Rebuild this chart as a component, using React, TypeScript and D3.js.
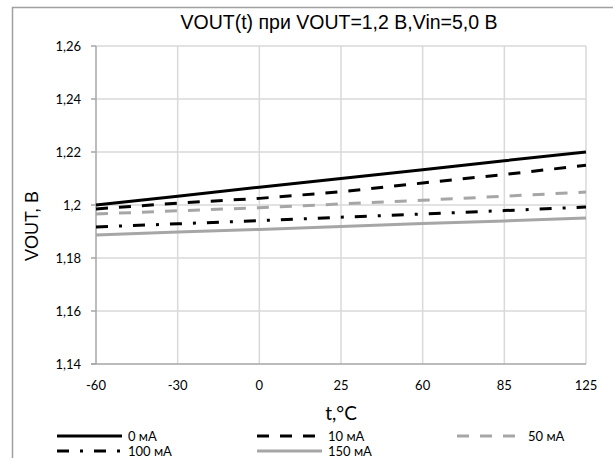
import React from "react";
import * as d3 from "d3";

const categories = ["-60", "-30", "0", "25", "60", "85", "125"];
const yTicks = [1.14, 1.16, 1.18, 1.2, 1.22, 1.24, 1.26];
const seriesNames = ["0 мА", "10 мА", "50 мА", "100 мА", "150 мА"];
const s0 = [1.2, 1.2033, 1.2067, 1.21, 1.2133, 1.2167, 1.22];
const s10 = [1.1985, 1.2007, 1.2025, 1.205, 1.2083, 1.2115, 1.215];
const s50 = [1.1966, 1.1978, 1.199, 1.2004, 1.2018, 1.2033, 1.2049];
const s100 = [1.1917, 1.1929, 1.1941, 1.1954, 1.1966, 1.1979, 1.1992];
const s150 = [1.1887, 1.1898, 1.1908, 1.1919, 1.193, 1.194, 1.1951];

const W = 613;
const H = 458;

const styles = [
  { color: "#000", dash: "none" },
  { color: "#000", dash: "12 11" },
  { color: "#a6a6a6", dash: "12 11" },
  { color: "#000", dash: "12 11 3 11" },
  { color: "#a6a6a6", dash: "none" },
];

export default function App() {
  const data = [s0, s10, s50, s100, s150];
  const x = d3.scalePoint<string>().domain(categories).range([96, 586]);
  const y = d3.scaleLinear().domain([1.14, 1.26]).range([364, 46]);
  const line = d3
    .line<number>()
    .x((_, i) => x(categories[i]) as number)
    .y((d) => y(d));
  const fmt = (v: number) => d3.format(".2~f")(v).replace(".", ",");
  const legendPos = [
    [57, 436],
    [257, 436],
    [457, 436],
    [57, 451],
    [257, 451],
  ];
  const tickFont = "Lato, 'Open Sans', sans-serif";
  return (
    <svg
      width={W}
      height={H}
      style={{ position: "absolute", left: 0, top: 0, background: "#fff" }}
    >
      <rect x={12.5} y={7.5} width={W + 10} height={H + 10} fill="#fff" stroke="#a0a0a0" strokeWidth={1.5} />
      <text
        x={339}
        y={29}
        textAnchor="middle"
        fontFamily="'Liberation Sans', Arial, sans-serif"
        fontSize={19.5}
        fill="#000"
      >
        VOUT(t) при VOUT=1,2 В,Vin=5,0 В
      </text>
      {yTicks.map((t) => (
        <g key={"y" + t}>
          {t > 1.14 && (
            <line x1={96} x2={586} y1={y(t)} y2={y(t)} stroke="#d9d9d9" strokeWidth={1.5} />
          )}
          <line x1={91} x2={96} y1={y(t)} y2={y(t)} stroke="#a6a6a6" strokeWidth={1.5} />
          <text
            x={81}
            y={y(t)}
            dy="0.35em"
            textAnchor="end"
            fontFamily={tickFont}
            fontSize={13}
            fill="#000"
          >
            {fmt(t)}
          </text>
        </g>
      ))}
      {categories.map((c, i) => (
        <g key={"x" + c}>
          {i > 0 && (
            <line x1={x(c)} x2={x(c)} y1={46} y2={364} stroke="#d9d9d9" strokeWidth={1.5} />
          )}
          <text
            x={x(c)}
            y={385}
            dy="0.35em"
            textAnchor="middle"
            fontFamily={tickFont}
            fontSize={13}
            fill="#000"
          >
            {c}
          </text>
        </g>
      ))}
      <line x1={96} x2={96} y1={46} y2={364} stroke="#a6a6a6" strokeWidth={1.5} />
      <line x1={91} x2={586} y1={364} y2={364} stroke="#a6a6a6" strokeWidth={1.5} />
      {data.map((d, i) => (
        <path
          key={"s" + i}
          d={line(d) || ""}
          fill="none"
          stroke={styles[i].color}
          strokeWidth={3}
          strokeDasharray={styles[i].dash}
        />
      ))}
      <text
        x={32}
        y={226}
        transform="rotate(-90 32 226)"
        dy="0.35em"
        textAnchor="middle"
        fontFamily="'Liberation Sans', Arial, sans-serif"
        fontSize={18}
        fill="#000"
      >
        VOUT, В
      </text>
      <text
        x={341}
        y={413}
        dy="0.35em"
        textAnchor="middle"
        fontFamily={tickFont}
        fontSize={19}
        fill="#000"
      >
        t,°C
      </text>
      {seriesNames.map((n, i) => (
        <g key={"l" + i}>
          <line
            x1={legendPos[i][0]}
            x2={legendPos[i][0] + 65}
            y1={legendPos[i][1]}
            y2={legendPos[i][1]}
            stroke={styles[i].color}
            strokeWidth={3}
            strokeDasharray={styles[i].dash}
          />
          <text
            x={legendPos[i][0] + 71}
            y={legendPos[i][1]}
            dy="0.35em"
            fontFamily={tickFont}
            fontSize={13}
            fill="#000"
          >
            {n}
          </text>
        </g>
      ))}
    </svg>
  );
}
